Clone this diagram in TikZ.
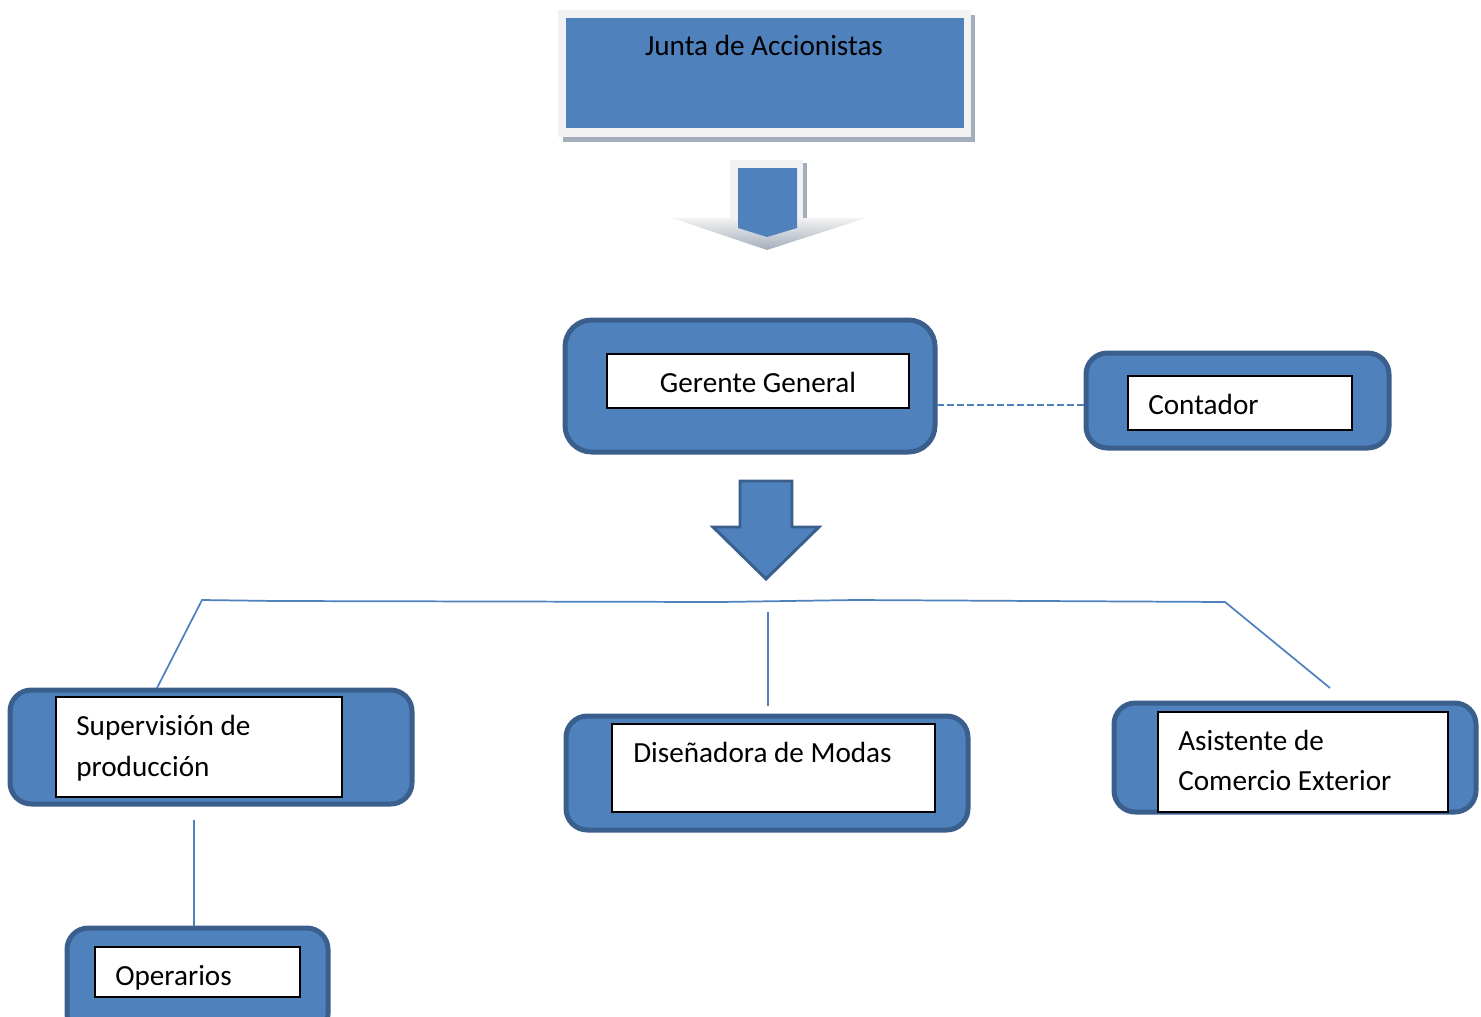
\documentclass[tikz,border=0pt]{standalone}
\usepackage{fontspec}
\setmainfont{Carlito}
\usetikzlibrary{fit,shadings}
\definecolor{boxblue}{HTML}{4F81BD}
\definecolor{boxedge}{HTML}{3A5F8C}
\definecolor{framegray}{HTML}{F2F2F2}
\definecolor{shadowgray}{HTML}{A4ADBB}
\begin{document}
\begin{tikzpicture}[x=0.75pt,y=-0.75pt,
  outerbox/.style={draw=boxedge, fill=boxblue, line width=3.75pt, rounded corners=16pt, inner sep=0pt},
  innerbox/.style={draw=black, fill=white, line width=0.8pt, inner sep=0pt},
  lbl/.style={font=\fontsize{21.9}{30.5}\selectfont, anchor=base west, inner sep=0pt},
  conn/.style={draw=boxblue, line width=1.3pt},
  dashconn/.style={draw=boxblue, line width=1.5pt, dash pattern=on 5pt off 2.5pt},
]
\useasboundingbox (0,0) rectangle (1481,1017);

% Junta de Accionistas
\fill[shadowgray] (563,15) rectangle (975,142);
\node[fill=framegray, fit={(558,10) (971,137)}, inner sep=0pt] (jfr) {};
\node[fill=boxblue, fit={(566,18) (964,128)}, inner sep=0pt] (junta) {};
\node[lbl, anchor=base] (juntat) at (764,55) {Junta de Accionistas};

% first arrow
\fill[shadowgray] (733,163) rectangle (807,226);
\fill[framegray] (730,160) rectangle (803,226);
\shade[top color=framegray, bottom color=shadowgray] (672,218) -- (866,218) -- (767,250) -- cycle;
\fill[boxblue] (738,168) -- (797,168) -- (797,228) -- (767,237) -- (738,228) -- cycle;

% Gerente General
\node[outerbox, rounded corners=20pt, fit={(565,320) (935,452)}] (gg) {};
\node[innerbox, fit={(607,354) (909,408)}] (ggi) {};
\node[lbl, anchor=base] (ggt) at (758,392) {Gerente General};

% Contador
\node[outerbox, fit={(1086,353) (1389,448)}] (cont) {};
\node[innerbox, fit={(1128,376) (1352,430)}] (conti) {};
\node[lbl] (contt) at (1148,414) {Contador};

\coordinate (d1) at (937,405);
\draw[dashconn] (d1) -- (d1 -| cont.west);

% second arrow
\draw[draw=boxedge, fill=boxblue, line width=2.2pt, line join=miter]
  (740,481) -- (792,481) -- (792,527) -- (819,527) -- (766,579) -- (713,527) -- (740,527) -- cycle;

% Supervision de produccion
\node[outerbox, fit={(10,690) (412,804)}] (sup) {};
\node[innerbox, fit={(56,697) (342,797)}] (supi) {};
\node[lbl] (supt1) at (76,735) {Supervisión de};
\node[lbl] (supt2) at (76,776) {producción};

% Disenadora de Modas
\node[outerbox, fit={(566,716) (968,830)}] (dis) {};
\node[innerbox, fit={(612,724) (935,812)}] (disi) {};
\node[lbl] (dist) at (633,762) {Diseñadora de Modas};

% Asistente de Comercio Exterior
\node[outerbox, fit={(1114,703) (1476,812)}] (asi) {};
\node[innerbox, fit={(1158,712) (1448,812)}] (asii) {};
\node[lbl] (asit1) at (1178,750) {Asistente de};
\node[lbl] (asit2) at (1178,790) {Comercio Exterior};

% Operarios
\node[outerbox, fit={(67,928) (328,1035)}] (ope) {};
\node[innerbox, fit={(95,947) (300,997)}] (opei) {};
\node[lbl] (opet) at (115,985) {Operarios};

% connectors
\coordinate (h0) at (157,688);
\coordinate (h1) at (202,600);
\coordinate (h2) at (276,601);
\coordinate (h3) at (720,602);
\coordinate (h4) at (855,600);
\coordinate (h5) at (1225,602);
\coordinate (h6) at (1330,688);
\draw[conn] (h0) -- (h1) -- (h2) -- (h3) -- (h4) -- (h5) -- (h6);
\coordinate (v1) at (768,612);
\coordinate (v2) at (768,706);
\draw[conn] (v1) -- (v2);
\coordinate (o1) at (194,820);
\draw[conn] (o1) -- (o1 |- ope.north);
\end{tikzpicture}
\end{document}
